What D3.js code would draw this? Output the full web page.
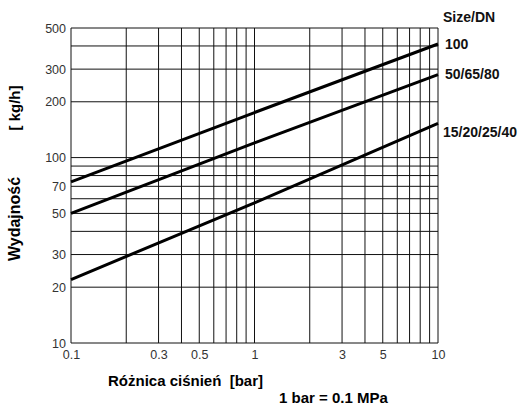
<!DOCTYPE html>
<html>
<head>
<meta charset="utf-8">
<script src="https://d3js.org/d3.v7.min.js"></script>
<style>
  body { margin: 0; background: #fff; }
  svg { display: block; font-family: "Liberation Sans", Arial, sans-serif; }
</style>
</head>
<body>
<div id="chart"></div>
<script>
// data
const pressure = [0.1, 1, 10];
const dn100 = [74, 175, 410];
const dn50 = [50, 120, 280];
const dn15 = [22, 57, 153];
const seriesNames = ['100', '50/65/80', '15/20/25/40'];
const labelShift = [5, 4, 14];
const xGrid = [0.1, 0.2, 0.3, 0.4, 0.5, 0.6, 0.7, 0.8, 0.9, 1, 2, 3, 4, 5, 6, 7, 8, 9, 10];
const yGrid = [10, 20, 30, 40, 50, 60, 70, 80, 90, 100, 200, 300, 400, 500];
const xTicks = [0.1, 0.3, 0.5, 1, 3, 5, 10];
const yTicks = [10, 20, 30, 50, 70, 100, 200, 300, 500];

const width = 520, height = 405;
const margin = { top: 28, right: 82, bottom: 62, left: 71 };

const svg = d3.select('#chart').append('svg')
  .attr('width', width)
  .attr('height', height);

const x = d3.scaleLog()
  .domain([0.1, 10])
  .range([margin.left, width - margin.right]);

const y = d3.scaleLog()
  .domain([10, 500])
  .range([height - margin.bottom, margin.top]);

// grid
const grid = svg.append('g').attr('stroke', '#111').attr('stroke-width', 1);
grid.selectAll('.vx')
  .data(xGrid)
  .enter()
  .append('line')
  .attr('x1', d => x(d)).attr('x2', d => x(d))
  .attr('y1', y(10)).attr('y2', y(500));
grid.selectAll('.hy')
  .data(yGrid)
  .enter()
  .append('line')
  .attr('x1', x(0.1)).attr('x2', x(10))
  .attr('y1', d => y(d)).attr('y2', d => y(d));

// axes (labels only)
const fmt = d => String(d);
const xAxis = svg.append('g')
  .attr('transform', `translate(0, ${y(10)})`)
  .call(d3.axisBottom(x).tickValues(xTicks).tickFormat(fmt).tickSize(0).tickPadding(7));
const yAxis = svg.append('g')
  .attr('transform', `translate(${x(0.1)}, 0)`)
  .call(d3.axisLeft(y).tickValues(yTicks).tickFormat(fmt).tickSize(0).tickPadding(5));
[xAxis, yAxis].forEach(a => {
  a.select('.domain').remove();
  a.selectAll('text')
    .attr('font-size', '12.5px')
    .attr('fill', '#333')
    .attr('font-family', '"Liberation Sans", Arial, sans-serif');
});

// lines
const seriesData = [dn100, dn50, dn15].map((vals, i) => ({
  name: seriesNames[i],
  shift: labelShift[i],
  points: pressure.map((p, j) => [p, vals[j]])
}));

const line = d3.line()
  .x(d => x(d[0]))
  .y(d => y(d[1]));

svg.selectAll('.series')
  .data(seriesData)
  .enter()
  .append('path')
  .attr('d', d => line(d.points))
  .attr('fill', 'none')
  .attr('stroke', '#000')
  .attr('stroke-width', 3);

// series labels
svg.selectAll('.lbl')
  .data(seriesData)
  .enter()
  .append('text')
  .attr('x', d => x(10) + (d.name === '15/20/25/40' ? 5 : 7))
  .attr('y', d => y(d.points[d.points.length - 1][1]) + d.shift)
  .attr('font-size', '14px')
  .attr('font-weight', 'bold')
  .attr('fill', '#111')
  .text(d => d.name);

svg.append('text')
  .attr('x', x(10) + 5)
  .attr('y', 22)
  .attr('font-size', '14px')
  .attr('font-weight', 'bold')
  .attr('fill', '#111')
  .text('Size/DN');

// axis titles
svg.append('text')
  .attr('x', 108)
  .attr('y', 386)
  .attr('font-size', '15px')
  .attr('font-weight', 'bold')
  .attr('fill', '#000')
  .text('Różnica ciśnień\u00a0 [bar]');

svg.append('text')
  .attr('x', 279)
  .attr('y', 403)
  .attr('font-size', '15px')
  .attr('font-weight', 'bold')
  .attr('fill', '#000')
  .text('1 bar = 0.1 MPa');

svg.append('text')
  .attr('transform', 'translate(20, 219) rotate(-90)')
  .attr('text-anchor', 'middle')
  .attr('font-size', '16px')
  .attr('font-weight', 'bold')
  .attr('fill', '#000')
  .text('Wydajność');

svg.append('text')
  .attr('transform', 'translate(20, 108) rotate(-90)')
  .attr('text-anchor', 'middle')
  .attr('font-size', '15px')
  .attr('font-weight', 'bold')
  .attr('fill', '#000')
  .text('[ kg/h]');
</script>
</body>
</html>
